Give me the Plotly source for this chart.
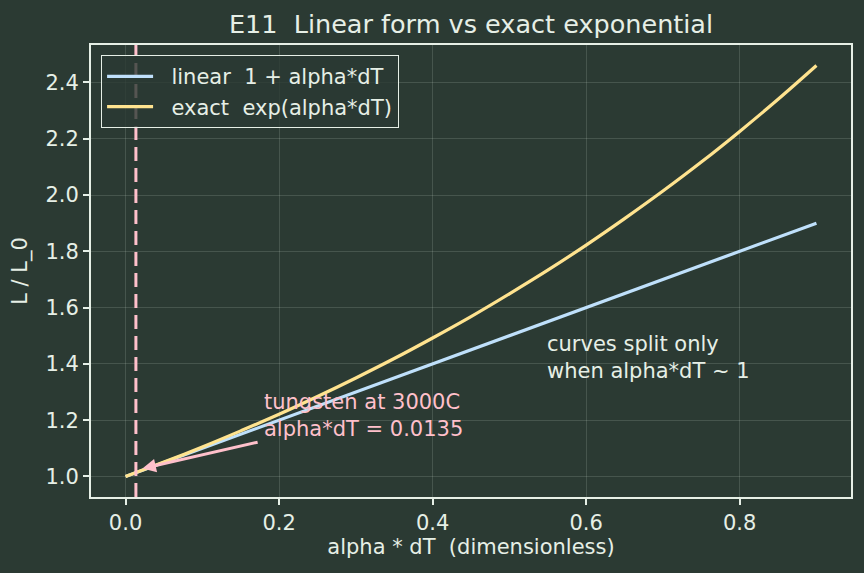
import plotly.graph_objects as go

# data
x_vals = [0.0, 0.05, 0.1, 0.15, 0.2, 0.25, 0.3, 0.35, 0.4, 0.45,
          0.5, 0.55, 0.6, 0.65, 0.7, 0.75, 0.8, 0.85, 0.9]
linear_vals = [1.0, 1.05, 1.1, 1.15, 1.2, 1.25, 1.3, 1.35, 1.4, 1.45,
               1.5, 1.55, 1.6, 1.65, 1.7, 1.75, 1.8, 1.85, 1.9]
exact_vals = [1.0, 1.051, 1.105, 1.162, 1.221, 1.284, 1.350, 1.419, 1.492, 1.568,
              1.649, 1.733, 1.822, 1.916, 2.014, 2.117, 2.226, 2.340, 2.460]
tungsten_x = 0.0135
x_ticks = [0.0, 0.2, 0.4, 0.6, 0.8]
y_ticks = [1.0, 1.2, 1.4, 1.6, 1.8, 2.0, 2.2, 2.4]

BG = "#2b3a33"
FG = "#e6efe6"
PINK = "#ffc0cb"
BLUE = "#bfe0fb"
YELLOW = "#ffe38f"
FONT = "DejaVu Sans"
FS = 21
NB = "\u00a0\u00a0"

fig = go.Figure()
fig.add_trace(go.Scatter(x=x_vals, y=linear_vals, mode="lines",
                         name=NB + "linear  1 + alpha*dT",
                         line=dict(color=BLUE, width=3.2)))
fig.add_trace(go.Scatter(x=x_vals, y=exact_vals, mode="lines",
                         name=NB + "exact  exp(alpha*dT)",
                         line=dict(color=YELLOW, width=3.2, shape="spline")))

fig.add_shape(type="line", xref="x", yref="paper", x0=tungsten_x, x1=tungsten_x,
              y0=0, y1=1, line=dict(color=PINK, width=3, dash="14px,7px"), layer="above")

fig.add_annotation(x=0.022, y=1.028, ax=0.174, ay=1.123, xref="x", yref="y",
                   axref="x", ayref="y", text="", showarrow=True,
                   arrowhead=2, arrowsize=0.9, arrowwidth=3, arrowcolor=PINK)
fig.add_annotation(x=0.178, y=1.12, xref="x", yref="y",
                   text="tungsten at 3000C<br>alpha*dT = 0.0135",
                   showarrow=False, xanchor="left", yanchor="bottom", align="left",
                   font=dict(family=FONT, size=FS, color=PINK))
fig.add_annotation(x=0.547, y=1.325, xref="x", yref="y",
                   text="curves split only<br>when alpha*dT ~ 1",
                   showarrow=False, xanchor="left", yanchor="bottom", align="left",
                   font=dict(family=FONT, size=FS, color=FG))

axis_common = dict(showline=True, linecolor=FG, linewidth=2, mirror=True,
                   ticks="outside", tickcolor=FG, ticklen=6, tickwidth=1.5,
                   showgrid=True, gridcolor="rgba(230,239,230,0.15)", gridwidth=1,
                   zeroline=False, tickfont=dict(family=FONT, size=FS, color=FG))

fig.update_layout(
    width=864, height=573,
    paper_bgcolor=BG, plot_bgcolor=BG,
    margin=dict(l=91, r=13, t=45, b=76),
    title=dict(text="E11  Linear form vs exact exponential", x=0.5, xref="paper",
               xanchor="center", y=0.958, yanchor="middle",
               font=dict(family=FONT, size=25.5, color=FG)),
    xaxis=dict(range=[-0.045, 0.945], tickvals=x_ticks,
               ticktext=[f"{v:.1f}" for v in x_ticks],
               title=dict(text="alpha * dT  (dimensionless)", standoff=5,
                          font=dict(family=FONT, size=FS, color=FG)),
               **axis_common),
    yaxis=dict(range=[0.927, 2.533], tickvals=y_ticks,
               ticktext=[f"{v:.1f}" for v in y_ticks],
               title=dict(text="L / L_0", standoff=12,
                          font=dict(family=FONT, size=FS, color=FG)),
               **axis_common),
    legend=dict(x=0.013, y=0.978, xanchor="left", yanchor="top",
                bgcolor="rgba(43,58,51,0.8)", bordercolor=FG, borderwidth=1.2,
                font=dict(family=FONT, size=FS, color=FG),
                itemwidth=46, tracegroupgap=0),
    showlegend=True,
)

fig.write_html("out.html")
